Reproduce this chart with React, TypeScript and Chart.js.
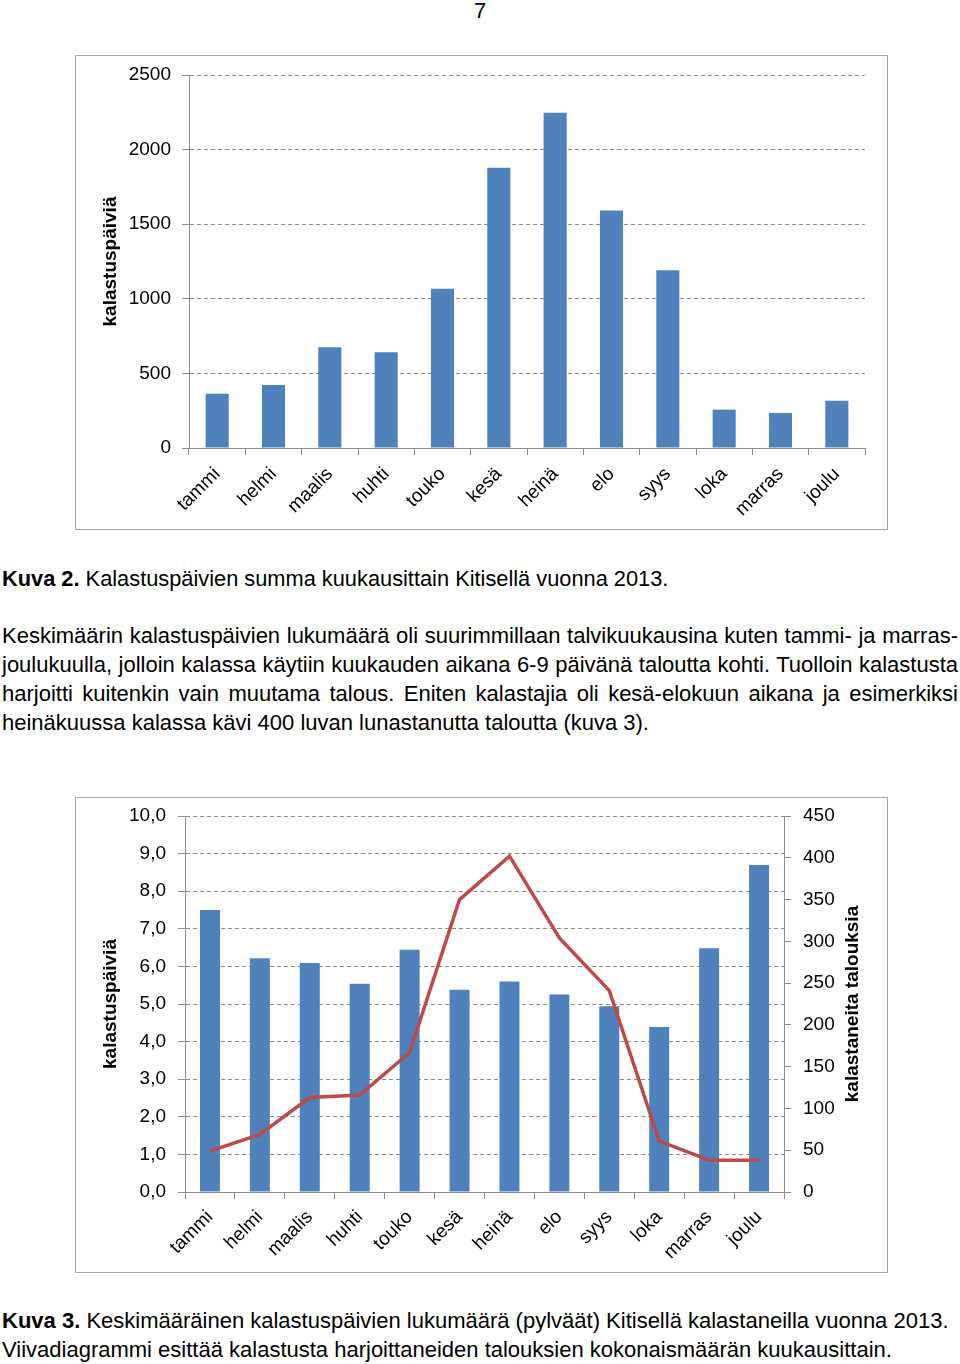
import React, { useEffect, useRef } from "react";
import { Chart, registerables } from "chart.js";
Chart.register(...registerables);

const months = ["tammi", "helmi", "maalis", "huhti", "touko", "kesä", "heinä", "elo", "syys", "loka", "marras", "joulu"];
const totalDays = [363, 423, 676, 642, 1068, 1878, 2247, 1591, 1191, 257, 235, 316];
const avgDays = [7.5, 6.22, 6.09, 5.54, 6.44, 5.38, 5.6, 5.25, 4.94, 4.39, 6.48, 8.7];
const households = [49, 69, 113, 116, 167, 350, 402, 304, 241, 61, 38, 38];

const chart1Max = 2500;
const chart1Step = 500;
const chart2LeftMax = 10;
const chart2LeftStep = 1;
const chart2RightMax = 450;
const chart2RightStep = 50;

const leftTitle = "kalastuspäiviä";
const rightTitle = "kalastaneita talouksia";

const FONT = "'Liberation Sans', Arial, Helvetica, sans-serif";
const BAR = "#4F81BD";
const LINE = "#BE4B48";
const AXIS = "#8C8C8C";
const GRID = "#8C8C8C";

function fixY(width: number) {
  return (s: any) => {
    s.width = width;
    s.paddingTop = 0;
    s.paddingBottom = 0;
  };
}

function Chart1() {
  const ref = useRef<HTMLCanvasElement>(null);
  useEffect(() => {
    const chart = new Chart(ref.current!, {
      type: "bar",
      data: {
        labels: months,
        datasets: [{ data: totalDays, backgroundColor: BAR, categoryPercentage: 1, barPercentage: 0.41 }],
      },
      options: {
        animation: false,
        responsive: false,
        maintainAspectRatio: false,
        layout: { padding: { top: 19, right: 22, left: 0, bottom: 0 } },
        plugins: { legend: { display: false }, tooltip: { enabled: false } },
        scales: {
          x: {
            grid: { offset: true, drawOnChartArea: false, drawTicks: true, tickLength: 7, color: AXIS },
            border: { color: AXIS, width: 1 },
            ticks: { color: "#000", font: { family: FONT, size: 19 }, maxRotation: 45, minRotation: 45, autoSkip: false, padding: 8 },
            afterFit: (s: any) => { s.height = 81; },
          },
          y: {
            min: 0,
            max: chart1Max,
            ticks: { stepSize: chart1Step, color: "#000", font: { family: FONT, size: 19 }, padding: 11, callback: (v: any) => String(v) },
            grid: { color: GRID, tickLength: 7, tickColor: AXIS, tickBorderDash: [] },
            border: { color: AXIS, dash: [4, 3], width: 1 },
            title: { display: true, text: leftTitle, color: "#000", font: { family: FONT, size: 19, weight: "bold" }, padding: { top: 23, bottom: 0 } },
            afterFit: fixY(113),
          },
        },
      },
    });
    return () => chart.destroy();
  }, []);
  return <canvas ref={ref} width={811} height={473} style={{ display: "block" }} />;
}

const rightTitlePlugin = {
  id: "rightTitle",
  afterDraw(chart: any) {
    const { ctx, chartArea } = chart;
    ctx.save();
    ctx.translate(777, (chartArea.top + chartArea.bottom) / 2);
    ctx.rotate(-Math.PI / 2);
    ctx.font = `bold 19px ${FONT}`;
    ctx.fillStyle = "#000";
    ctx.textAlign = "center";
    ctx.textBaseline = "middle";
    ctx.fillText(rightTitle, 0, 0);
    ctx.restore();
  },
};

function Chart2() {
  const ref = useRef<HTMLCanvasElement>(null);
  useEffect(() => {
    const chart = new Chart(ref.current!, {
      type: "bar",
      data: {
        labels: months,
        datasets: [
          { type: "line", data: households, yAxisID: "y1", borderColor: LINE, borderWidth: 3.5, pointRadius: 0, tension: 0, order: 0 } as any,
          { type: "bar", data: avgDays, yAxisID: "y", backgroundColor: BAR, categoryPercentage: 1, barPercentage: 0.4, order: 1 } as any,
        ],
      },
      options: {
        animation: false,
        responsive: false,
        maintainAspectRatio: false,
        layout: { padding: { top: 18, right: 0, left: 0, bottom: 0 } },
        plugins: { legend: { display: false }, tooltip: { enabled: false } },
        scales: {
          x: {
            grid: { offset: true, drawOnChartArea: false, drawTicks: true, tickLength: 7, color: AXIS },
            border: { color: AXIS, width: 1 },
            ticks: { color: "#000", font: { family: FONT, size: 19 }, maxRotation: 45, minRotation: 45, autoSkip: false, padding: 7 },
            afterFit: (s: any) => { s.height = 80; },
          },
          y: {
            position: "left",
            min: 0,
            max: chart2LeftMax,
            ticks: {
              stepSize: chart2LeftStep,
              color: "#000",
              font: { family: FONT, size: 19 },
              padding: 12,
              callback: (v: any) => Number(v).toFixed(1).replace(".", ","),
            },
            grid: { color: GRID, tickLength: 7, tickColor: AXIS, tickBorderDash: [] },
            border: { color: AXIS, dash: [4, 3], width: 1 },
            title: { display: true, text: leftTitle, color: "#000", font: { family: FONT, size: 19, weight: "bold" }, padding: { top: 23, bottom: 0 } },
            afterFit: fixY(109),
          },
          y1: {
            position: "right",
            min: 0,
            max: chart2RightMax,
            ticks: { stepSize: chart2RightStep, color: "#000", font: { family: FONT, size: 19 }, padding: 12 },
            grid: { drawOnChartArea: false, tickLength: 7, color: AXIS },
            border: { color: AXIS, width: 1 },
            afterFit: fixY(103),
          },
        },
      },
      plugins: [rightTitlePlugin],
    });
    return () => chart.destroy();
  }, []);
  return <canvas ref={ref} width={811} height={474} style={{ display: "block" }} />;
}

const textBase: React.CSSProperties = {
  position: "absolute",
  fontFamily: FONT,
  fontSize: 22,
  lineHeight: "29px",
  color: "#000",
  whiteSpace: "nowrap",
};

const justified: React.CSSProperties = {
  ...textBase,
  textAlign: "justify",
  textAlignLast: "justify" as any,
  width: 956,
  left: 2,
};

export default function App() {
  return (
    <div style={{ position: "absolute", left: 0, top: 0, width: 960, height: 1364, background: "#fff", overflow: "hidden" }}>
      <div style={{ ...textBase, left: 0, width: 960, textAlign: "center", top: -4 }}>7</div>

      <div style={{ position: "absolute", left: 75, top: 55, width: 811, height: 473, border: "1px solid #A6A6A6" }}>
        <Chart1 />
      </div>

      <div style={{ ...textBase, left: 2, top: 564, fontSize: 21.8 }}>
        <b>Kuva 2.</b> Kalastuspäivien summa kuukausittain Kitisellä vuonna 2013.
      </div>

      <div style={{ ...justified, top: 621 }}>Keskimäärin kalastuspäivien lukumäärä oli suurimmillaan talvikuukausina kuten tammi- ja marras-</div>
      <div style={{ ...justified, top: 650 }}>joulukuulla, jolloin kalassa käytiin kuukauden aikana 6-9 päivänä taloutta kohti. Tuolloin kalastusta</div>
      <div style={{ ...justified, top: 679 }}>harjoitti kuitenkin vain muutama talous. Eniten kalastajia oli kesä-elokuun aikana ja esimerkiksi</div>
      <div style={{ ...textBase, left: 2, top: 708 }}>heinäkuussa kalassa kävi 400 luvan lunastanutta taloutta (kuva 3).</div>

      <div style={{ position: "absolute", left: 75, top: 797, width: 811, height: 474, border: "1px solid #A6A6A6" }}>
        <Chart2 />
      </div>

      <div style={{ ...textBase, left: 2, top: 1306 }}>
        <b>Kuva 3.</b> Keskimääräinen kalastuspäivien lukumäärä (pylväät) Kitisellä kalastaneilla vuonna 2013.
      </div>
      <div style={{ ...textBase, left: 2, top: 1335 }}>
        Viivadiagrammi esittää kalastusta harjoittaneiden talouksien kokonaismäärän kuukausittain.
      </div>
    </div>
  );
}
